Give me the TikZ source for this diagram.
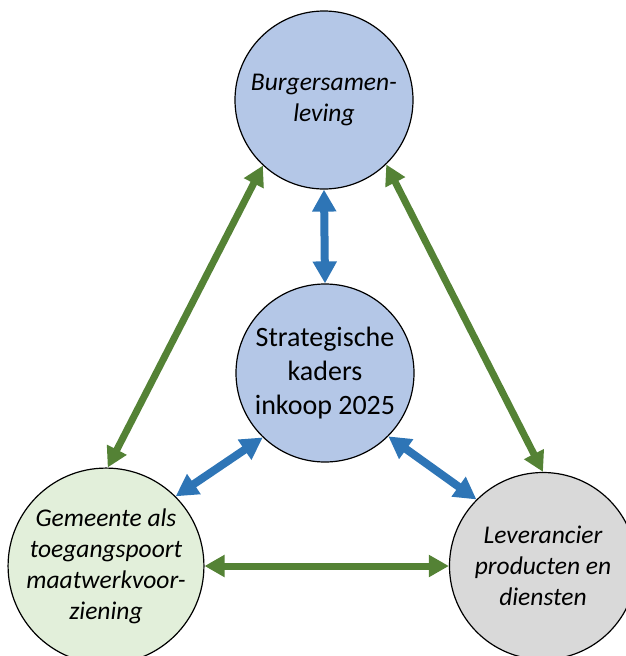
\documentclass[tikz,border=0pt]{standalone}
\usepackage{fontspec}
\setmainfont{Carlito}
\usetikzlibrary{arrows.meta}
\definecolor{kblue}{HTML}{B4C7E7}
\definecolor{kgreen}{HTML}{E2EFDA}
\definecolor{kgray}{HTML}{D9D9D9}
\definecolor{ablue}{HTML}{2E75B6}
\definecolor{agreen}{HTML}{548235}
\tikzset{
    knode/.style={circle,draw=black,line width=1.2pt,minimum size=178pt,inner sep=0pt,align=center,
        font=\fontsize{28}{34}\selectfont},
    inode/.style={knode,font=\fontsize{25.5}{31}\selectfont\itshape},
    gedge/.style={draw=agreen,line width=7pt,{Triangle[length=20pt,width=21pt]}-{Triangle[length=20pt,width=21pt]}},
    bedge/.style={draw=ablue,line width=8pt,{Triangle[length=22pt,width=23pt]}-{Triangle[length=22pt,width=23pt]}},
}
\begin{document}
\begin{tikzpicture}[x=1pt,y=-1pt]
    \useasboundingbox (0,0) rectangle (626,656);
    \node[inode,fill=kblue] (burger) at (324,100) {Burgersamen-\\leving};
    \node[knode,fill=kblue] (kader) at (325,373) {Strategische\\kaders\\inkoop 2025};
    \node[inode,fill=kgreen,minimum size=187pt] (gemeente) at (106,566) {Gemeente als\\toegangspoort\\maatwerkvoor-\\ziening};
    \node[inode,fill=kgray,minimum size=187pt] (leverancier) at (543,566) {Leverancier\\producten en\\diensten};
    \path
        (burger.south) edge[bedge] (kader.north)
        (kader.226) edge[bedge] (gemeente.45)
        (kader.-45) edge[bedge] (leverancier.135)
        (burger.227) edge[gedge] (gemeente.89)
        (burger.-46) edge[gedge] (leverancier.90)
        (gemeente.east) edge[gedge] (leverancier.west)
    ;
\end{tikzpicture}
\end{document}
